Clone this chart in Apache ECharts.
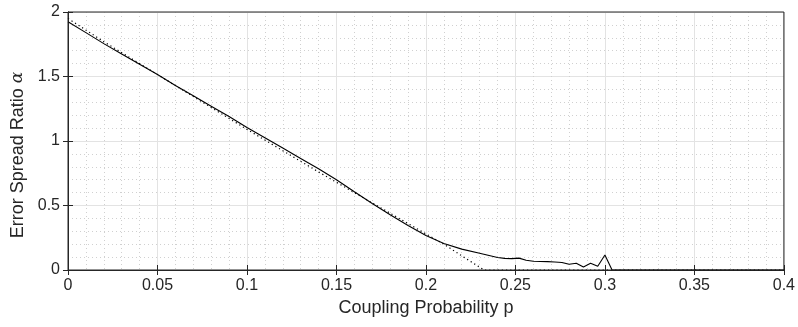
<!DOCTYPE html>
<html>
<head>
<meta charset="utf-8">
<script src="https://cdn.jsdelivr.net/npm/echarts@6/dist/echarts.min.js"></script>
<style>html,body{margin:0;padding:0;background:#fff;}#c{width:798px;height:327px;}</style>
</head>
<body>
<div id="c"></div>
<script>
// Simulated (solid) curve
var simP = [0, 0.01, 0.02, 0.03, 0.04, 0.05, 0.06, 0.07, 0.08, 0.09, 0.1, 0.11, 0.12, 0.13, 0.14, 0.15, 0.16, 0.17, 0.18, 0.19, 0.2, 0.21, 0.22, 0.23, 0.24, 0.244, 0.248, 0.252, 0.256, 0.26, 0.264, 0.268, 0.272, 0.276, 0.28, 0.284, 0.288, 0.292, 0.296, 0.3, 0.304, 0.4];
var simAlpha = [1.925, 1.84, 1.755, 1.675, 1.595, 1.515, 1.43, 1.35, 1.27, 1.19, 1.105, 1.025, 0.945, 0.865, 0.785, 0.7, 0.607, 0.515, 0.428, 0.345, 0.268, 0.205, 0.162, 0.13, 0.097, 0.09, 0.088, 0.092, 0.075, 0.068, 0.066, 0.065, 0.062, 0.058, 0.044, 0.052, 0.023, 0.052, 0.029, 0.116, 0, 0];
// Theoretical (dotted) curve
var thP = [0, 0.02, 0.04, 0.06, 0.08, 0.1, 0.12, 0.14, 0.16, 0.18, 0.2, 0.21, 0.22, 0.2325, 0.4];
var thAlpha = [1.95, 1.77, 1.6, 1.43, 1.26, 1.09, 0.925, 0.76, 0.6, 0.44, 0.28, 0.2, 0.11, 0, 0];
var xTicks = [0, 0.05, 0.1, 0.15, 0.2, 0.25, 0.3, 0.35, 0.4];
var yTicks = [0, 0.5, 1, 1.5, 2];

function pairs(xs, ys){ return xs.map(function(x,i){return [x, ys[i]];}); }

var font = 'Liberation Sans, Arial, Helvetica, sans-serif';
var axisColor = '#262626';
var majorGrid = { show: true, lineStyle: { color: '#e3e3e3', width: 1, type: 'solid' } };
var minorGrid = { show: true, lineStyle: { color: '#d0d0d0', width: 1, type: [1, 3] } };
var tick = { show: true, inside: true, length: 5, lineStyle: { color: axisColor, width: 1 } };

var chart = echarts.init(document.getElementById('c'), null, { renderer: 'canvas' });
chart.setOption({
  animation: false,
  backgroundColor: '#fff',
  grid: { left: 68, right: 13, top: 12, bottom: 57, containLabel: false,
          show: true, borderColor: axisColor, borderWidth: 1, backgroundColor: 'transparent', z: 10 },
  xAxis: [{
    type: 'value', min: xTicks[0], max: xTicks[xTicks.length-1], interval: 0.05,
    name: 'Coupling Probability p', nameLocation: 'middle', nameGap: 28,
    nameTextStyle: { fontFamily: font, fontSize: 18, color: axisColor },
    axisLine: { show: true, lineStyle: { color: axisColor, width: 1 } },
    axisTick: tick,
    axisLabel: { fontFamily: font, fontSize: 16, color: axisColor, margin: 8 },
    splitLine: majorGrid,
    minorTick: { show: false, splitNumber: 5 },
    minorSplitLine: minorGrid
  }, {
    type: 'value', position: 'top', min: xTicks[0], max: xTicks[xTicks.length-1], interval: 0.05,
    axisLine: { show: true, lineStyle: { color: axisColor, width: 1 } },
    axisTick: tick,
    axisLabel: { show: false }, splitLine: { show: false }
  }],
  yAxis: [{
    type: 'value', min: yTicks[0], max: yTicks[yTicks.length-1], interval: 0.5,
    name: '{a|Error Spread Ratio }{b|α}', nameLocation: 'middle', nameGap: 36, nameRotate: 90,
    nameTextStyle: { fontFamily: font, fontSize: 18, color: axisColor, padding: [0, 28, 0, 0],
      rich: { a: { fontFamily: font, fontSize: 18, color: axisColor },
              b: { fontFamily: 'DejaVu Serif, Liberation Serif, serif', fontStyle: 'italic', fontSize: 17, color: axisColor } } },
    axisLine: { show: true, lineStyle: { color: axisColor, width: 1 } },
    axisTick: tick,
    axisLabel: { fontFamily: font, fontSize: 16, color: axisColor, margin: 8 },
    splitLine: majorGrid,
    minorTick: { show: false, splitNumber: 5 },
    minorSplitLine: minorGrid
  }, {
    type: 'value', position: 'right', min: yTicks[0], max: yTicks[yTicks.length-1], interval: 0.5,
    axisLine: { show: true, lineStyle: { color: axisColor, width: 1 } },
    axisTick: tick,
    axisLabel: { show: false }, splitLine: { show: false }
  }],
  series: [{
    type: 'line', data: pairs(thP, thAlpha), showSymbol: false, symbol: 'none',
    lineStyle: { color: '#000', width: 1.2, type: [1.2, 3] }, z: 3
  }, {
    type: 'line', data: pairs(simP, simAlpha), showSymbol: false, symbol: 'none',
    lineStyle: { color: '#000', width: 1.1 }, z: 4
  }, {
    type: 'line', xAxisIndex: 1, yAxisIndex: 1, data: [], showSymbol: false, silent: true
  }]
});
</script>
</body>
</html>
